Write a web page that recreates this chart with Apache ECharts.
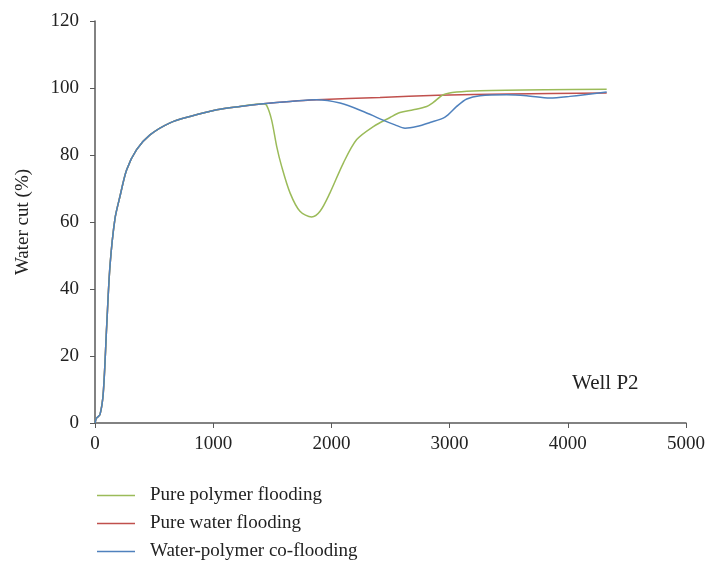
<!DOCTYPE html>
<html>
<head>
<meta charset="utf-8">
<script src="https://cdn.jsdelivr.net/npm/echarts@6/dist/echarts.min.js"></script>
<style>
  html, body { margin: 0; padding: 0; background: #fff; }
  #chart { width: 709px; height: 566px; }
</style>
</head>
<body>
<div id="chart"></div>
<script>
// shared early rise (all three cases coincide here)
const riseX = [0, 14, 42, 70, 99, 127, 169, 211, 268, 352, 465, 635, 804, 1030, 1227, 1424];
const riseY = [0, 1.5, 2.5, 9, 29, 47, 61, 67.6, 75.6, 81.6, 86, 89.6, 91.5, 93.5, 94.5, 95.3];

const polymerX = [1452, 1494, 1537, 1579, 1650, 1734, 1833, 1904, 1988, 2101, 2214, 2355, 2496, 2580, 2693, 2806, 2862, 2947, 3060, 3257, 3821, 4329];
const polymerY = [94.8, 90.5, 82.6, 76.6, 68.7, 63.2, 61.5, 63.2, 68.7, 77.6, 84.6, 88.5, 91.2, 92.7, 93.5, 94.5, 95.7, 98.0, 98.8, 99.2, 99.5, 99.6];

const waterX = [1650, 1875, 2411, 2900, 3500, 4329];
const waterY = [96.0, 96.5, 97.2, 97.8, 98.2, 98.5];

const coX = [1650, 1875, 2073, 2270, 2411, 2538, 2623, 2721, 2834, 2961, 3060, 3145, 3257, 3483, 3652, 3849, 4018, 4329];
const coY = [96.0, 96.5, 95.5, 93.0, 90.8, 89.0, 88.0, 88.5, 89.7, 91.3, 94.5, 96.7, 97.7, 98.0, 97.7, 97.0, 97.5, 98.8];

const seriesNames = ['Pure polymer flooding', 'Pure water flooding', 'Water-polymer co-flooding'];
const seriesColors = ['#9bbb59', '#c0504d', '#4f81bd'];
const xTicks = [0, 1000, 2000, 3000, 4000, 5000];
const yTicks = [0, 20, 40, 60, 80, 100, 120];

const pairs = (xs, ys) => xs.map((x, i) => [x, ys[i]]);
const withRise = (xs, ys) => pairs(riseX, riseY).concat(pairs(xs, ys));

const chart = echarts.init(document.getElementById('chart'));
const serif = 'Liberation Serif';

const option = {
  animation: false,
  grid: { left: 95, top: 21, right: 23, bottom: 143 },
  xAxis: {
    type: 'value',
    min: xTicks[0],
    max: xTicks[xTicks.length - 1],
    interval: 1000,
    axisLine: { lineStyle: { color: '#595959', width: 1.5 } },
    axisTick: { show: true, length: 5, lineStyle: { color: '#595959' } },
    axisLabel: { color: '#222', fontFamily: serif, fontSize: 19, margin: 12, formatter: v => String(v) },
    splitLine: { show: false }
  },
  yAxis: {
    type: 'value',
    min: yTicks[0],
    max: yTicks[yTicks.length - 1],
    interval: 20,
    name: 'Water cut (%)',
    nameLocation: 'middle',
    nameGap: 62,
    nameTextStyle: { color: '#222', fontFamily: serif, fontSize: 19 },
    axisLine: { show: true, lineStyle: { color: '#595959', width: 1.5 } },
    axisTick: { show: true, length: 5, lineStyle: { color: '#595959' } },
    axisLabel: { color: '#222', fontFamily: serif, fontSize: 19, margin: 16 },
    splitLine: { show: false }
  },
  legend: {
    orient: 'vertical',
    left: 92,
    top: 481,
    itemWidth: 38,
    itemHeight: 1.5,
    itemGap: 9,
    icon: 'rect',
    textStyle: { color: '#222', fontFamily: serif, fontSize: 19, padding: [0, 0, 0, 10] },
    data: seriesNames
  },
  graphic: [
    {
      type: 'text',
      left: 572,
      top: 373,
      style: { text: 'Well P2', font: '21px "Liberation Serif"', fill: '#222' }
    }
  ],
  series: [
    { data: withRise(polymerX, polymerY) },
    { data: withRise(waterX, waterY) },
    { data: withRise(coX, coY) }
  ].map((s, i) => ({
    name: seriesNames[i],
    type: 'line',
    data: s.data,
    smooth: 0.3,
    showSymbol: false,
    symbol: 'none',
    lineStyle: { color: seriesColors[i], width: 1.5 },
    itemStyle: { color: seriesColors[i] },
    z: i === 1 ? 1 : 2
  }))
};

chart.setOption(option);
</script>
</body>
</html>
